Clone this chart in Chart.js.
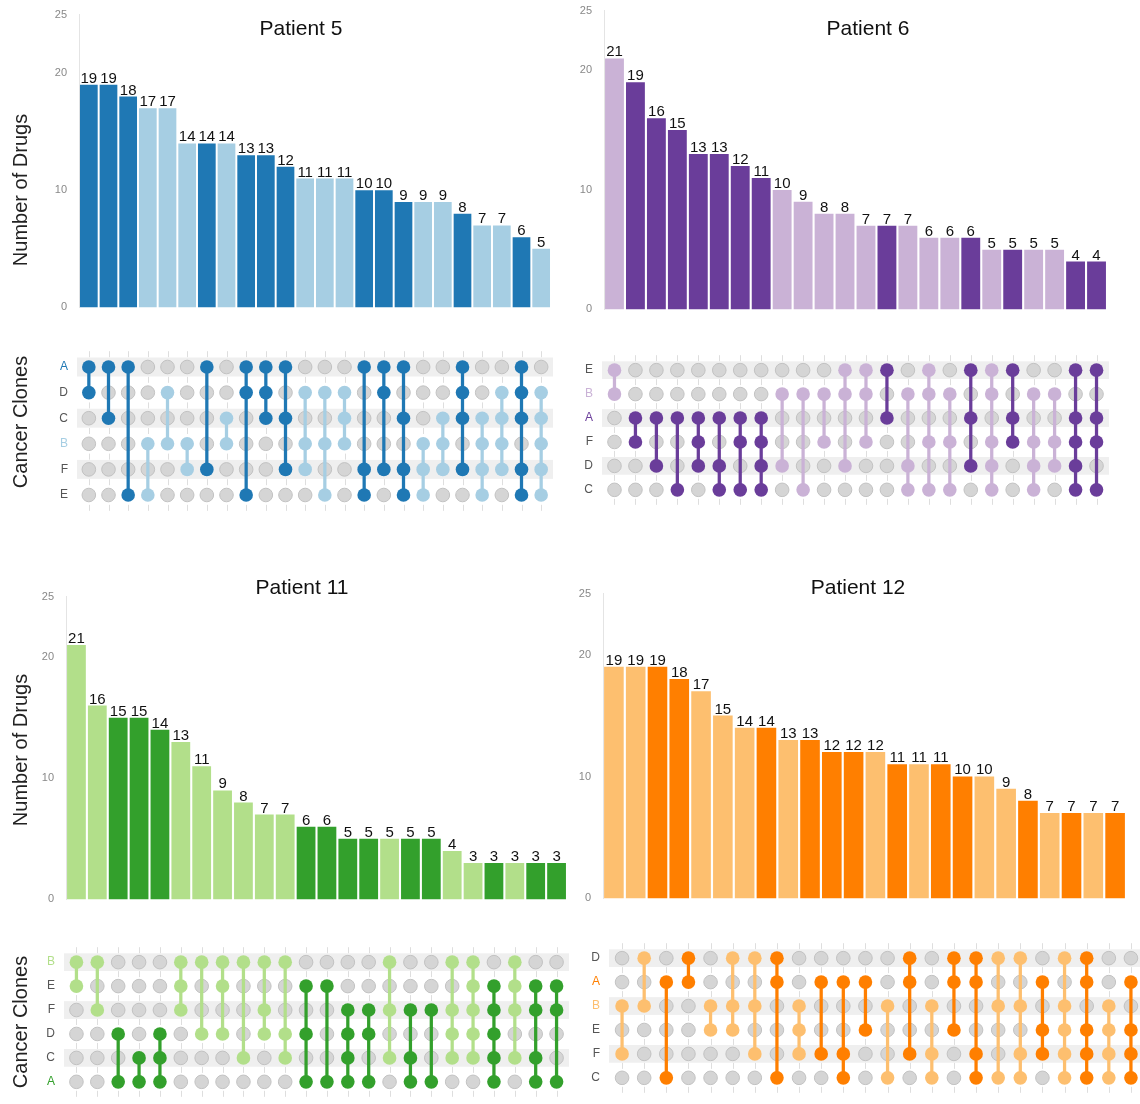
<!DOCTYPE html>
<html>
<head>
<meta charset="utf-8">
<script src="https://cdn.jsdelivr.net/npm/chart.js@4.4.1/dist/chart.umd.min.js"></script>
<style>
  html, body { margin: 0; padding: 0; background: #fff; overflow: hidden; width: 1140px; height: 1104px; }
  body { position: relative; font-family: "Liberation Sans", Arial, Helvetica, sans-serif; }
  canvas { position: absolute; }
  .txt { position: absolute; color: #111; white-space: nowrap; transform: translate(-50%, -50%); }
  .rot { transform: translate(-50%, -50%) rotate(-90deg); color: #222; }
</style>
</head>
<body>
<script>
// ---- data: drug counts per clone combination (intersection), one block per patient ----
const highlightClone = 'A';
const secondaryClone = 'B';
const yTickValues = [0, 10, 20, 25];

const p5Clones = ['A', 'D', 'C', 'B', 'F', 'E'];
const p5Counts = [19, 19, 18, 17, 17, 14, 14, 14, 13, 13, 12, 11, 11, 11, 10, 10, 9, 9, 9, 8, 7, 7, 6, 5];
const p5Sets = ['AD', 'AC', 'AE', 'BE', 'DB', 'BF', 'AF', 'CB', 'ADE', 'ADC', 'ACF', 'DBF',
                'DBE', 'DCB', 'AFE', 'ADF', 'ACFE', 'BFE', 'CBF', 'ADCF', 'CBFE', 'DCBF', 'ADCFE', 'DCBFE'];

const p6Clones = ['E', 'B', 'A', 'F', 'D', 'C'];
const p6Counts = [21, 19, 16, 15, 13, 13, 12, 11, 10, 9, 8, 8, 7, 7, 7, 6, 6, 6, 5, 5, 5, 5, 4, 4];
const p6Sets = ['EB', 'AF', 'AD', 'AC', 'AFD', 'ADC', 'AFC', 'AFDC', 'BD', 'BC', 'BF', 'EBD',
                'EBF', 'EA', 'BDC', 'EBFC', 'BFC', 'EAD', 'EBFDC', 'EAF', 'BFDC', 'BFD', 'EAFDC', 'EAFC'];

const p11Clones = ['B', 'E', 'F', 'D', 'C', 'A'];
const p11Counts = [21, 16, 15, 15, 14, 13, 11, 9, 8, 7, 7, 6, 6, 5, 5, 5, 5, 5, 4, 3, 3, 3, 3, 3];
const p11Sets = ['BE', 'BF', 'DA', 'CA', 'DCA', 'BEF', 'BD', 'BED', 'BC', 'BFD', 'BDC', 'EDA',
                 'EA', 'FDCA', 'FDA', 'BFC', 'FCA', 'FA', 'BFDC', 'BEFDC', 'EFDCA', 'BEFC', 'EFCA', 'EFA'];

const p12Clones = ['D', 'A', 'B', 'E', 'F', 'C'];
const p12Counts = [19, 19, 19, 18, 17, 15, 14, 14, 13, 13, 12, 12, 12, 11, 11, 11, 10, 10, 9, 8, 7, 7, 7, 7];
const p12Sets = ['BF', 'DB', 'AC', 'DA', 'BE', 'DBE', 'DBF', 'DAC', 'BEF', 'AF', 'AFC', 'AE',
                 'BC', 'DAF', 'BFC', 'DAE', 'DAFC', 'DBC', 'DBFC', 'AEF', 'DBEFC', 'DAEFC', 'BEFC', 'AEFC'];

// ---- styling ----
const FONT = '"Liberation Sans", Arial, Helvetica, sans-serif';
const palettes = {
  blue:   { dark: '#1f78b4', light: '#a6cee3' },
  purple: { dark: '#6a3d9a', light: '#cab2d6' },
  green:  { dark: '#33a02c', light: '#b2df8a' },
  orange: { dark: '#ff7f00', light: '#fdbf6f' }
};

// ---- panel placement (canvas box and plot area, page pixels) ----
const panels = [
  { title: 'Patient 5', clones: p5Clones, counts: p5Counts, sets: p5Sets, palette: palettes.blue,
    titlePos: [301, 28], yTitle: [20, 190], cloneTitle: [20, 422],
    bar: { box: { x: 0, y: -4, w: 560, h: 330 }, area: { L: 79, R: 551, T: 8, B: 318 } },
    mat: { box: { x: 0, y: 336, w: 560, h: 190 }, area: { L: 79, R: 551, T: 348, B: 517 } } },
  { title: 'Patient 6', clones: p6Clones, counts: p6Counts, sets: p6Sets, palette: palettes.purple,
    titlePos: [868, 28], yTitle: null, cloneTitle: null,
    bar: { box: { x: 570, y: -8, w: 560, h: 336 }, area: { L: 604, R: 1107, T: 5, B: 320 } },
    mat: { box: { x: 570, y: 340, w: 560, h: 180 }, area: { L: 604, R: 1107, T: 352, B: 508 } } },
  { title: 'Patient 11', clones: p11Clones, counts: p11Counts, sets: p11Sets, palette: palettes.green,
    titlePos: [302, 587], yTitle: [20, 750], cloneTitle: [20, 1022],
    bar: { box: { x: 0, y: 578, w: 580, h: 340 }, area: { L: 66, R: 567, T: 595, B: 907 } },
    mat: { box: { x: 0, y: 932, w: 580, h: 180 }, area: { L: 66, R: 567, T: 944.5, B: 1106.5 } } },
  { title: 'Patient 12', clones: p12Clones, counts: p12Counts, sets: p12Sets, palette: palettes.orange,
    titlePos: [858, 587], yTitle: null, cloneTitle: null,
    bar: { box: { x: 575, y: 575, w: 565, h: 342 }, area: { L: 603, R: 1126, T: 590, B: 907 } },
    mat: { box: { x: 575, y: 928, w: 575, h: 180 }, area: { L: 611, R: 1142, T: 940.6, B: 1101.4 } } }
];

function makeCanvas(b) {
  const c = document.createElement('canvas');
  c.width = b.w; c.height = b.h;
  c.style.left = b.x + 'px'; c.style.top = b.y + 'px';
  c.style.width = b.w + 'px'; c.style.height = b.h + 'px';
  document.body.appendChild(c);
  return c;
}

function addText(text, pos, size, cls) {
  const d = document.createElement('div');
  d.className = cls;
  d.textContent = text;
  d.style.left = pos[0] + 'px';
  d.style.top = pos[1] + 'px';
  d.style.fontSize = size + 'px';
  document.body.appendChild(d);
}

function paddingFor(box, area) {
  return { left: 0, top: area.T - box.y, right: box.x + box.w - area.R, bottom: box.y + box.h - area.B };
}

// numbers above each bar
const valueLabels = {
  id: 'valueLabels',
  afterDatasetsDraw(chart) {
    const ctx = chart.ctx;
    const meta = chart.getDatasetMeta(0);
    const values = chart.data.datasets[0].data;
    ctx.save();
    ctx.font = '15px ' + FONT;
    ctx.fillStyle = '#111';
    ctx.textAlign = 'center';
    ctx.textBaseline = 'alphabetic';
    meta.data.forEach((bar, i) => ctx.fillText(String(values[i]), bar.x, bar.y - 2));
    ctx.restore();
  }
};

// alternating row bands and column ticks behind the membership dots
const matrixBackdrop = {
  id: 'matrixBackdrop',
  beforeDatasetsDraw(chart) {
    const { ctx, chartArea: a, scales: { x, y } } = chart;
    const rows = chart.options.plugins.matrixBackdrop.rows;
    const cols = chart.options.plugins.matrixBackdrop.cols;
    const step = Math.abs(y.getPixelForValue(1) - y.getPixelForValue(0));
    ctx.save();
    ctx.fillStyle = '#efefef';
    for (let r = 0; r < rows; r += 2) {
      const cy = y.getPixelForValue(r);
      ctx.fillRect(a.left - 2, cy - step * 0.37, a.right - a.left + 4, step * 0.74);
    }
    ctx.strokeStyle = '#dedede';
    ctx.lineWidth = 1;
    for (let c = 0; c < cols; c++) {
      const cx = Math.round(x.getPixelForValue(c)) + 0.5;
      for (let r = 0; r <= rows; r++) {
        const by = y.getPixelForValue(r - 0.5);
        ctx.beginPath();
        ctx.moveTo(cx, by - 3);
        ctx.lineTo(cx, by + 3);
        ctx.stroke();
      }
    }
    ctx.restore();
  }
};

function barColor(panel, set) {
  return set.includes(highlightClone) ? panel.palette.dark : panel.palette.light;
}

function drawBars(panel) {
  const { box, area } = panel.bar;
  new Chart(makeCanvas(box), {
    type: 'bar',
    data: {
      labels: panel.sets,
      datasets: [{
        data: panel.counts,
        backgroundColor: panel.sets.map(s => barColor(panel, s)),
        borderWidth: 0,
        barPercentage: 0.9,
        categoryPercentage: 1
      }]
    },
    options: {
      responsive: false, animation: false, devicePixelRatio: 1,
      layout: { padding: paddingFor(box, area) },
      plugins: { legend: { display: false }, tooltip: { enabled: false } },
      scales: {
        x: { display: false },
        y: {
          min: 0, max: 25,
          afterBuildTicks: s => { s.ticks = yTickValues.map(v => ({ value: v })); },
          afterFit: s => { s.width = area.L - box.x; },
          grid: { display: false, drawTicks: false },
          border: { display: true, color: '#e4e4e4', width: 1 },
          ticks: { padding: 12, color: '#888', font: { size: 11, family: FONT } }
        }
      }
    },
    plugins: [valueLabels]
  });
}

function drawMatrix(panel) {
  const { box, area } = panel.mat;
  const R = 6.8;
  const gray = [];
  const members = [];
  const memberColors = [];
  const spans = [];
  const spanColors = [];
  panel.sets.forEach((s, i) => {
    const col = barColor(panel, s);
    const rows = [];
    panel.clones.forEach((c, r) => {
      if (s.includes(c)) {
        rows.push(r);
        members.push({ x: i, y: r });
        memberColors.push(col);
      } else {
        gray.push({ x: i, y: r });
      }
    });
    // connector running from the first to the last member clone of the combination
    spans.push({ x: i, y: [Math.min(...rows), Math.max(...rows)] });
    spanColors.push(col);
  });
  const labelColor = c => c === highlightClone ? panel.palette.dark
                        : c === secondaryClone ? panel.palette.light : '#555';
  new Chart(makeCanvas(box), {
    type: 'scatter',
    data: {
      datasets: [
        { type: 'scatter', data: members, pointRadius: R, order: 0,
          backgroundColor: memberColors, borderColor: memberColors, borderWidth: 0 },
        { type: 'bar', data: spans, order: 1, barThickness: 2.6, grouped: false,
          backgroundColor: spanColors, borderWidth: 0 },
        { type: 'scatter', data: gray, pointRadius: R, order: 2,
          backgroundColor: '#d5d5d5', borderColor: '#c2c2c2', borderWidth: 1 }
      ]
    },
    options: {
      responsive: false, animation: false, devicePixelRatio: 1,
      layout: { padding: paddingFor(box, area) },
      plugins: {
        legend: { display: false }, tooltip: { enabled: false },
        matrixBackdrop: { rows: panel.clones.length, cols: panel.sets.length }
      },
      scales: {
        x: { type: 'linear', min: -0.5, max: panel.sets.length - 0.5, display: false, offset: false },
        y: {
          type: 'linear', min: -0.5, max: panel.clones.length - 0.5, reverse: true,
          afterBuildTicks: s => { s.ticks = panel.clones.map((_, i) => ({ value: i })); },
          afterFit: s => { s.width = area.L - box.x; },
          grid: { display: false, drawTicks: false },
          border: { display: false },
          ticks: {
            padding: 11,
            font: { size: 12, family: FONT },
            color: ctx => labelColor(panel.clones[ctx.index]),
            callback: v => panel.clones[v]
          }
        }
      }
    },
    plugins: [matrixBackdrop]
  });
}

panels.forEach(p => {
  drawBars(p);
  drawMatrix(p);
  addText(p.title, p.titlePos, 21, 'txt');
  if (p.yTitle) addText('Number of Drugs', p.yTitle, 20, 'txt rot');
  if (p.cloneTitle) addText('Cancer Clones', p.cloneTitle, 20, 'txt rot');
});
</script>
</body>
</html>
